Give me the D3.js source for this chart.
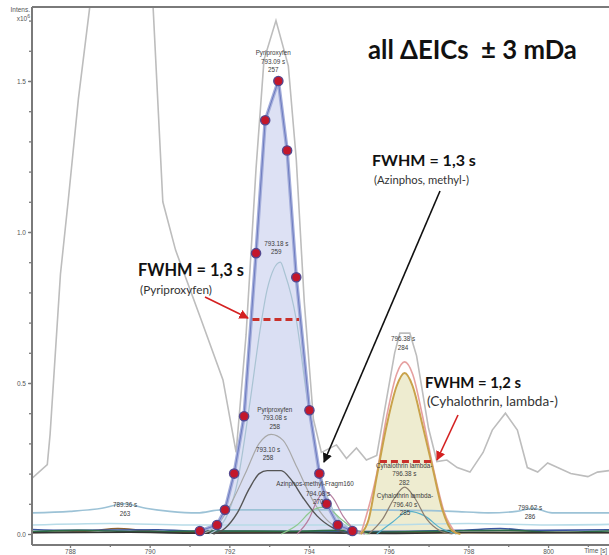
<!DOCTYPE html>
<html>
<head>
<meta charset="utf-8">
<script src="https://cdn.jsdelivr.net/npm/d3@7"></script>
<style>
  body { margin: 0; background: #fff; }
  svg { display: block; }
</style>
</head>
<body>
<svg id="chart" width="609" height="555"></svg>
<script>
// ---- data (time [s], intensity x10^6) ----
const xTicks = [788, 790, 792, 794, 796, 798, 800];
const xMinor = [789, 791, 793, 795, 797, 799, 801];
const yTicks = [0, 0.5, 1.0, 1.5];

// light grey overall trace
const ticTrace = [
  [787.05, 0.185], [787.43, 0.23], [787.50, 0.33], [787.76, 0.86], [787.96, 1.11],
  [788.21, 1.44], [788.51, 1.76], [788.9, 2.5], [789.3, 2.9], [789.7, 2.5],
  [790.08, 1.76], [790.33, 1.10], [790.65, 0.94], [791.29, 0.71], [791.84, 0.51],
  [792.17, 0.27], [792.42, 0.66], [792.67, 1.21], [792.87, 1.57], [793.17, 1.70],
  [793.48, 1.55], [793.68, 1.24], [793.88, 0.77], [794.11, 0.38], [794.31, 0.27],
  [794.69, 0.295], [794.94, 0.25], [795.19, 0.285], [795.44, 0.245], [795.70, 0.26],
  [795.95, 0.45], [796.15, 0.60], [796.28, 0.665], [796.53, 0.665], [796.70, 0.59],
  [797.00, 0.35], [797.21, 0.24], [797.46, 0.245], [797.72, 0.22], [798.04, 0.205],
  [798.37, 0.27], [798.60, 0.344], [798.93, 0.40], [799.23, 0.344], [799.48, 0.22],
  [799.74, 0.205], [799.99, 0.235], [800.24, 0.22], [800.57, 0.20], [801.0, 0.19],
  [801.24, 0.205], [801.53, 0.21]
];

// Pyriproxyfen main EIC (the dotted one)
const pyriMain = [
  [791.26, 0.01], [791.69, 0.03], [791.89, 0.08], [792.12, 0.20], [792.37, 0.39],
  [792.67, 0.93], [792.90, 1.37], [793.23, 1.50], [793.45, 1.27], [793.68, 0.85],
  [794.01, 0.41], [794.26, 0.20], [794.44, 0.10], [794.72, 0.03], [795.09, 0.01]
];
const pyri259 = [
  [791.5, 0.0], [791.9, 0.05], [792.2, 0.17], [792.5, 0.42], [792.8, 0.70],
  [792.95, 0.81], [793.28, 0.90], [793.4, 0.86], [793.68, 0.71], [793.95, 0.45],
  [794.25, 0.22], [794.6, 0.08], [795.0, 0.02], [795.4, 0.0]
];
const pyri258 = [
  [791.3, 0.0], [791.7, 0.03], [792.0, 0.09], [792.4, 0.20], [792.75, 0.30],
  [793.05, 0.33], [793.35, 0.31], [793.7, 0.22], [794.1, 0.11], [794.5, 0.04],
  [795.0, 0.01], [795.3, 0.0]
];
const pyri258b = [
  [791.6, 0.0], [791.9, 0.02], [792.2, 0.07], [792.5, 0.15], [792.75, 0.20],
  [792.95, 0.21], [793.3, 0.21], [793.55, 0.18], [793.85, 0.12], [794.2, 0.06],
  [794.6, 0.02], [795.0, 0.0]
];
const azinphos = [
  [793.7, 0.0], [794.0, 0.05], [794.2, 0.11], [794.4, 0.14], [794.6, 0.12],
  [794.85, 0.06], [795.1, 0.02], [795.4, 0.0]
];
const greenBump = [
  [793.3, 0.0], [793.7, 0.03], [794.1, 0.08], [794.4, 0.09], [794.8, 0.05],
  [795.2, 0.01], [795.5, 0.0]
];
const cyhMain = [
  [795.3, 0.0], [795.5, 0.05], [795.7, 0.19], [795.95, 0.36], [796.2, 0.49],
  [796.4, 0.533], [796.6, 0.49], [796.85, 0.36], [797.1, 0.22], [797.35, 0.08],
  [797.6, 0.01], [797.8, 0.0]
];
const cyhPink = [
  [795.3, 0.0], [795.7, 0.2], [795.95, 0.39], [796.2, 0.53], [796.4, 0.57],
  [796.6, 0.53], [796.85, 0.39], [797.1, 0.23], [797.4, 0.07], [797.7, 0.0]
];
const cyh282 = [
  [795.5, 0.0], [795.85, 0.05], [796.15, 0.12], [796.4, 0.155], [796.65, 0.12],
  [796.95, 0.05], [797.3, 0.01], [797.6, 0.0]
];
const cyh285 = [
  [795.7, 0.0], [796.1, 0.04], [796.5, 0.075], [796.9, 0.06], [797.3, 0.02], [797.7, 0.0]
];
const lightBlue = [
  [787.05, 0.07], [788.0, 0.075], [788.8, 0.085], [789.36, 0.10], [789.9, 0.085],
  [790.5, 0.075], [791.2, 0.07], [791.8, 0.08], [795.6, 0.08], [797.6, 0.075],
  [798.5, 0.07], [799.2, 0.075], [799.62, 0.085], [800.1, 0.07], [801.53, 0.07]
];
const lightCyan = [
  [787.05, 0.03], [789.0, 0.035], [791.0, 0.03], [795.5, 0.03], [798.0, 0.035],
  [800.0, 0.03], [801.53, 0.032]
];
const baseDkGreen = [
  [787.05, 0.008], [788.2, 0.012], [789.0, 0.01], [790.0, 0.008], [791.5, 0.01],
  [793.5, 0.009], [794.8, 0.012], [795.6, 0.006], [797.5, 0.01], [799.0, 0.012],
  [800.2, 0.006], [801.53, 0.01]
];
const baseBrown = [
  [787.05, 0.005], [788.5, 0.01], [789.2, 0.018], [789.8, 0.012], [790.6, 0.006],
  [792.0, 0.005], [795.0, 0.006], [797.0, 0.004], [801.53, 0.005]
];
const baseBlue = [
  [787.05, 0.015], [788.0, 0.012], [790.2, 0.014], [791.0, 0.01], [795.2, 0.008],
  [797.8, 0.012], [798.8, 0.018], [799.6, 0.012], [801.53, 0.014]
];
const baseDark = [
  [787.05, 0.004], [789.5, 0.006], [791.0, 0.003], [794.0, 0.004], [796.0, 0.002],
  [798.0, 0.005], [801.53, 0.004]
];

const peakLabels = [
  { t: 793.10, v: 1.586, lines: ['Pyriproxyfen', '793.09 s', '257'] },
  { t: 793.18, v: 0.954, lines: ['793.18 s', '259'] },
  { t: 793.14, v: 0.404, lines: ['Pyriproxyfen', '793.08 s', '258'] },
  { t: 792.97, v: 0.272, lines: ['793.10 s', '258'] },
  { t: 794.15, v: 0.159, lines: ['Azinphos-methyl-Fragm160'] },
  { t: 794.23, v: 0.126, lines: ['794.08 s', '270'] },
  { t: 796.36, v: 0.639, lines: ['796.38 s', '284'] },
  { t: 796.39, v: 0.219, lines: ['Cyhalothrin lambda-', '796.38 s', '282'] },
  { t: 796.41, v: 0.119, lines: ['Cyhalothrin lambda-', '796.40 s', '285'] },
  { t: 789.38, v: 0.089, lines: ['789.36 s', '263'] },
  { t: 799.55, v: 0.079, lines: ['799.62 s', '286'] }
];

// ---- setup ----
const svg = d3.select('#chart');
const plotLeft = 32, plotRight = 609, plotTop = 7, axisY = 545;

const x = d3.scaleLinear().domain([787.046, 801.53]).range([plotLeft, plotRight]);
const y = d3.scaleLinear().domain([0, 1.745]).range([534, plotTop]);

const defs = svg.append('defs');
defs.append('clipPath').attr('id', 'plot')
  .append('rect').attr('x', plotLeft).attr('y', plotTop)
  .attr('width', plotRight - plotLeft).attr('height', axisY - plotTop);

const plot = svg.append('g').attr('clip-path', 'url(#plot)');

const line = d3.line().x(d => x(d[0])).y(d => y(d[1]));
const smooth = d3.line().x(d => x(d[0])).y(d => y(d[1])).curve(d3.curveMonotoneX);
const area = d3.area().x(d => x(d[0])).y0(y(0)).y1(d => y(d[1]));
const smoothArea = d3.area().x(d => x(d[0])).y0(y(0)).y1(d => y(d[1])).curve(d3.curveMonotoneX);

// fills
plot.append('path').attr('d', smoothArea(pyri258)).attr('fill', '#e4eef3');
plot.append('path').attr('d', smoothArea(pyri259)).attr('fill', '#dde9f1');
plot.append('path').attr('d', area(pyriMain)).attr('fill', '#d9def3').attr('fill-opacity', 0.9);
plot.append('path').attr('d', smoothArea(cyhMain)).attr('fill', '#eeecd0');

// baseline clutter
[[baseBrown, '#8a6030'], [baseBlue, '#3a55a0'], [baseDkGreen, '#2f6e46'], [baseDark, '#333'],
 [lightCyan, '#b8dce8'], [lightBlue, '#9cc2d6']].forEach(([data, c]) => {
  plot.append('path').attr('d', smooth(data)).attr('fill', 'none')
    .attr('stroke', c).attr('stroke-width', 1.6);
});

// grey overall trace
plot.append('path').attr('d', line(ticTrace)).attr('fill', 'none')
  .attr('stroke', '#bdbdbd').attr('stroke-width', 1.6);

// smaller EICs
const traces = [
  [pyri259, '#a9c3d3', 1.2],
  [pyri258, '#a8a8a8', 1.2],
  [greenBump, '#8fc98f', 1.2],
  [azinphos, '#b77fa0', 1.2],
  [pyri258b, '#555', 1.4],
  [cyh285, '#58b0c8', 1.2],
  [cyh282, '#8c7f70', 1.2],
  [cyhPink, '#e6a0a0', 1.6]
];
traces.forEach(([data, c, w]) => {
  plot.append('path').attr('d', smooth(data)).attr('fill', 'none')
    .attr('stroke', c).attr('stroke-width', w);
});
plot.append('path').attr('d', smooth(cyhMain)).attr('fill', 'none')
  .attr('stroke', '#c9a24a').attr('stroke-width', 2);

// main pyriproxyfen trace
plot.append('path').attr('d', line(pyriMain)).attr('fill', 'none')
  .attr('stroke', '#a4aedb').attr('stroke-width', 3.5);
plot.append('path').attr('d', line(pyriMain)).attr('fill', 'none')
  .attr('stroke', '#6e7cc0').attr('stroke-width', 1);

// acquisition points
plot.selectAll('circle.pt').data(pyriMain).join('circle')
  .attr('class', 'pt')
  .attr('cx', d => x(d[0])).attr('cy', d => y(d[1])).attr('r', 4.6)
  .attr('fill', '#c3172b').attr('stroke', '#54488f').attr('stroke-width', 1.4);

// ---- axes ----
const axisColor = '#7a7a7a';
svg.append('line').attr('x1', plotLeft).attr('x2', plotLeft).attr('y1', plotTop).attr('y2', axisY)
  .attr('stroke', axisColor).attr('stroke-width', 2);
svg.append('line').attr('x1', plotLeft).attr('x2', plotRight).attr('y1', axisY).attr('y2', axisY)
  .attr('stroke', axisColor).attr('stroke-width', 2);
svg.append('line').attr('x1', plotLeft).attr('x2', plotRight).attr('y1', plotTop).attr('y2', plotTop)
  .attr('stroke', axisColor).attr('stroke-width', 2);

const yAxis = svg.append('g').attr('transform', `translate(${plotLeft},0)`)
  .call(d3.axisLeft(y).tickValues(yTicks).tickFormat(d3.format('.1f')).tickSize(4).tickPadding(2));
const yMinor = svg.append('g').attr('transform', `translate(${plotLeft},0)`)
  .call(d3.axisLeft(y).tickValues(d3.range(0.1, 1.75, 0.1)).tickFormat('').tickSize(3));
const xAxis = svg.append('g').attr('transform', `translate(0,${axisY})`)
  .call(d3.axisBottom(x).tickValues(xTicks).tickFormat(d3.format('d')).tickSize(3).tickPadding(1));
const xMin = svg.append('g').attr('transform', `translate(0,${axisY})`)
  .call(d3.axisBottom(x).tickValues(xMinor).tickFormat('').tickSize(2));

[yAxis, yMinor, xAxis, xMin].forEach(g => {
  g.select('.domain').remove();
  g.selectAll('line').attr('stroke', axisColor).attr('stroke-width', 1.3);
  g.selectAll('text').attr('fill', '#555').attr('font-size', 6.5)
    .attr('font-family', 'Liberation Sans, Arial, sans-serif');
});

svg.append('text').attr('x', 607).attr('y', 553)
  .attr('text-anchor', 'end').attr('font-size', 6.5).attr('fill', '#555')
  .attr('font-family', 'Liberation Sans, Arial, sans-serif').text('Time [s]');

const yTitle = svg.append('g').attr('font-size', 6.5).attr('fill', '#555')
  .attr('font-family', 'Liberation Sans, Arial, sans-serif').attr('text-anchor', 'end');
yTitle.append('text').attr('x', 30).attr('y', 12).text('Intens.');
const yt2 = yTitle.append('text').attr('x', 30).attr('y', 21);
yt2.append('tspan').text('x10');
yt2.append('tspan').attr('dy', -3).attr('font-size', 5).text('6');

// ---- peak labels ----
const lab = svg.append('g').attr('font-family', 'Liberation Sans, Arial, sans-serif')
  .attr('font-size', 6.3).attr('fill', '#3c3c3c').attr('text-anchor', 'middle');
peakLabels.forEach(p => {
  const t = lab.append('text').attr('x', x(p.t)).attr('y', y(p.v));
  p.lines.forEach((s, i) => t.append('tspan').attr('x', x(p.t)).attr('dy', i ? 8.5 : 0).text(s));
});

// ---- annotations ----
function fitText(sel, width) {
  const w = sel.node().getComputedTextLength();
  sel.attr('font-size', parseFloat(sel.attr('font-size')) * width / w);
}
const ann = svg.append('g').attr('font-family', 'Lato, Open Sans, sans-serif');
fitText(ann.append('text').attr('x', 368).attr('y', 59).attr('font-size', 20)
  .attr('font-weight', 700).attr('fill', '#111').text('all ΔEICs\u00a0 ± 3 mDa'), 209);

const notes = [
  { x: 372, y: 166, w: 104, head: 'FWHM = 1,3 s', sub: '(Azinphos, methyl-)', sw: 95 },
  { x: 138, y: 276, w: 106, head: 'FWHM = 1,3 s', sub: '(Pyriproxyfen)', sw: 72 },
  { x: 425, y: 388, w: 96, head: 'FWHM = 1,2 s', sub: '(Cyhalothrin, lambda-)', sw: 131 }
];
notes.forEach(n => {
  fitText(ann.append('text').attr('x', n.x).attr('y', n.y).attr('font-size', 15)
    .attr('font-weight', 700).attr('fill', '#111').text(n.head), n.w);
  fitText(ann.append('text').attr('x', n.x + 2).attr('y', n.y + 18).attr('font-size', 11)
    .attr('fill', '#333').text(n.sub), n.sw);
});

// FWHM dashed markers
const dashes = [[792.58, 793.75, 0.71], [795.78, 797.14, 0.24]];
dashes.forEach(([a, b, v]) => {
  svg.append('line').attr('x1', x(a)).attr('x2', x(b)).attr('y1', y(v)).attr('y2', y(v))
    .attr('stroke', '#c9302a').attr('stroke-width', 3).attr('stroke-dasharray', '7,4');
});

// arrows
[['ar', '#d42020'], ['ab', '#111']].forEach(([id, c]) => {
  defs.append('marker').attr('id', id).attr('viewBox', '0 0 10 10').attr('refX', 9).attr('refY', 5)
    .attr('markerWidth', 6).attr('markerHeight', 6).attr('orient', 'auto')
    .append('path').attr('d', 'M0,0 L10,5 L0,10 z').attr('fill', c);
});
const arrows = [
  [205, 297, 248, 318, '#d42020', 'ar'],
  [458, 415, 437, 460, '#d42020', 'ar'],
  [440, 191, 324, 462, '#111', 'ab']
];
arrows.forEach(([x1, y1, x2, y2, c, m]) => {
  svg.append('line').attr('x1', x1).attr('y1', y1).attr('x2', x2).attr('y2', y2)
    .attr('stroke', c).attr('stroke-width', 1.6).attr('marker-end', `url(#${m})`);
});
</script>
</body>
</html>
